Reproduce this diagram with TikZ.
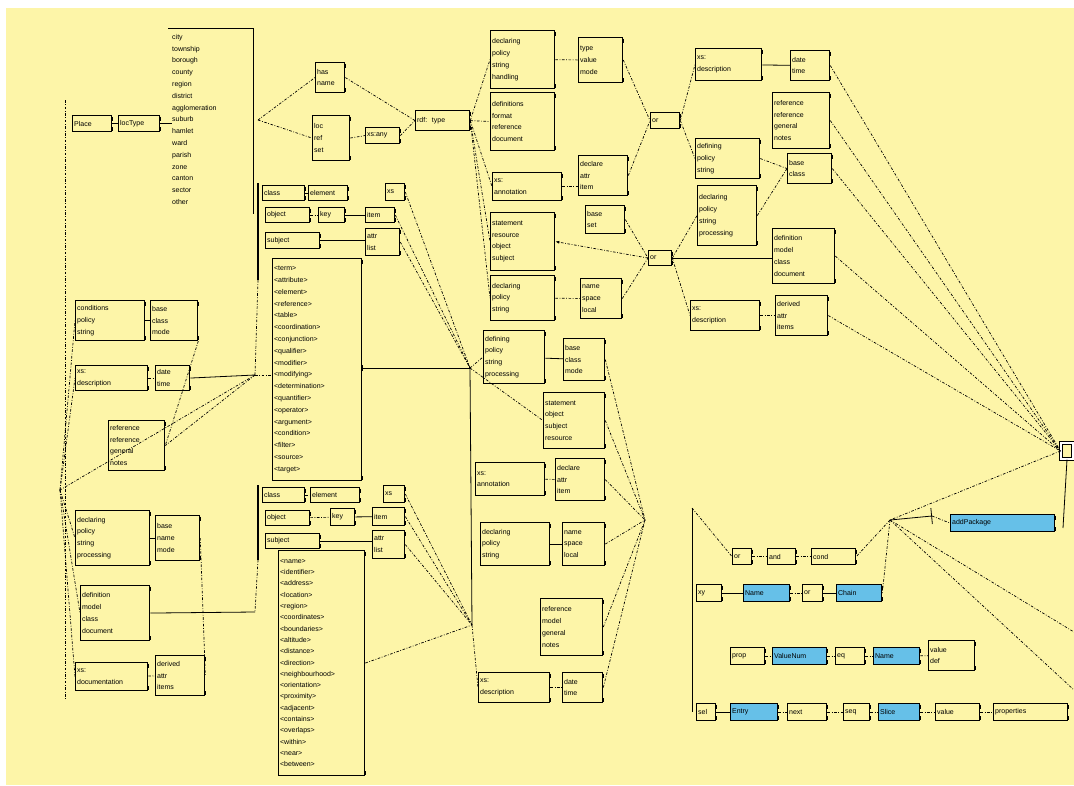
\documentclass[tikz,border=0pt]{standalone}
\usepackage{fontspec}
\setmainfont{Liberation Sans}
\usepackage{xcolor}
\usetikzlibrary{positioning,arrows.meta}
\definecolor{paper}{RGB}{253,245,168}
\definecolor{hilite}{RGB}{102,192,232}
\newcommand{\lsz}{\fontsize{7}{11.8}\selectfont}

\begin{document}
\begin{tikzpicture}[
    x=1pt, y=-1pt,
    every node/.style={font=\lsz},
    box/.style={draw, line width=1.1pt, anchor=north west, inner sep=1.6pt,
                align=left, tabs},
    bbox/.style={box, fill=hilite},
    wh/.code 2 args={\pgfmathsetmacro\boxtw{#1-4}%
      \edef\boxset{\noexpand\tikzset{text width=\boxtw pt, minimum height=#2pt}}\boxset},
    tabs/.style={append after command={\pgfextra{%
      \draw[line width=1.7pt] ([yshift=-1.5pt]\tikzlastnode.north east) -- ++(0,-4pt);
      \draw[line width=1.7pt] ([yshift=1.5pt]\tikzlastnode.south east) -- ++(0,4pt);}}},
    dd/.style={line width=0.7pt, dash pattern=on 2.6pt off 1.6pt on 0.8pt off 1.6pt},
    link/.style={line width=0.8pt},
    bracket/.style={line width=1.4pt},
]
  \useasboundingbox (0,0) rectangle (1074,785);
  \fill[white] (0,0) rectangle (1074,785);
  \fill[paper] (6,8) rectangle (1074,785);

  % Top left: place type list
  \node[box, wh={40}{16}] (a1) at (72,115) {Place};
  \node[box, wh={42}{16}] (a2) at (118,115) {locType};
  \node[anchor=north west, align=left, inner sep=0pt] (lst) at (172,34)
    {city\\township\\borough\\county\\region\\district\\agglomeration\\suburb\\hamlet\\ward\\parish\\zone\\canton\\sector\\other};
  \coordinate (tl) at (168,28);
  \coordinate (tr) at (253,28);
  \coordinate (tb) at (253,214);
  \draw[link] (a1) -- (a2);
  \draw[link] (a2) -- (lst.west |- a2);
  \draw[link] (tl) -- (tr) -- (tb);

  % Top middle
  \coordinate (jb) at (258,120);
  \node[box, wh={30}{30}] (b1) at (315,62) {has\\name};
  \node[box, wh={38}{45}] (b2) at (312,115) {loc\\ref\\set};
  \node[box, wh={35}{16}] (b3) at (365,127) {xs:any};
  \node[box, wh={55}{20}] (b4) at (415,110) {rdf:\ \ type};
  \draw[dd] (jb) -- (b1.west);
  \draw[dd] (jb) -- (b2.west);
  \draw[dd] (b2.east) -- (b3.west);
  \draw[dd] (b1.east) -- (b4.west);
  \draw[dd] (b3.east) -- (b4.west);

  % Column C and D
  \node[box, wh={65}{58}] (c1) at (490,30) {declaring\\policy\\string\\handling};
  \node[box, wh={65}{58}] (c2) at (490,92) {definitions\\format\\reference\\document};
  \node[box, wh={70}{28}] (c3) at (492,172) {xs:\\annotation};
  \node[box, wh={65}{58}] (c4) at (490,212) {statement\\resource\\object\\subject};
  \node[box, wh={65}{45}] (c5) at (490,275) {declaring\\policy\\string};
  \node[box, wh={45}{45}] (d1) at (578,37) {type\\value\\mode};
  \node[box, wh={50}{40}] (d2) at (578,155) {declare\\attr\\item};
  \node[box, wh={40}{28}] (d3) at (585,205) {base\\set};
  \node[box, wh={42}{40}] (d4) at (580,278) {name\\space\\local};
  \foreach \c in {c1,c2,c3,c4,c5}
    \draw[dd] (b4.east) -- (\c.west);
  \draw[dd] (c1) -- (d1);
  \draw[dd] (c3) -- (d2.west |- c3);
  \draw[dd] (c5) -- (d4);

  % Choices
  \node[box, wh={30}{16}] (e1) at (650,112) {or};
  \node[box, wh={24}{15}] (e2) at (648,250) {or};
  \draw[dd] (d1.east) -- (e1.west);
  \draw[dd] (d2.east) -- (e1.west);
  \draw[dd] (d3.east) -- (e2.west);
  \draw[dd] (d4.east) -- (e2.west);
  \draw[dd, -{Latex[length=4pt]}] (e2.west) -- (c4.east);

  % Column F
  \node[box, wh={67}{32}] (f1) at (695,48) {xs:\\description};
  \node[box, wh={40}{30}] (g1) at (790,50) {date\\time};
  \node[box, wh={58}{56}] (f2) at (772,92) {reference\\reference\\general\\notes};
  \node[box, wh={65}{40}] (f3) at (695,138) {defining\\policy\\string};
  \node[box, wh={60}{60}] (f4) at (697,185) {declaring\\policy\\string\\processing};
  \node[box, wh={45}{30}] (f5) at (787,153) {base\\class};
  \node[box, wh={63}{55}] (f6) at (772,228) {definition\\model\\class\\document};
  \node[box, wh={70}{30}] (f7) at (690,300) {xs:\\description};
  \node[box, wh={53}{40}] (f8) at (775,295) {derived\\attr\\items};
  \draw[dd] (e1.east) -- (f1.west);
  \draw[dd] (e1.east) -- (f3.west);
  \draw[link] (f1) -- (g1);
  \draw[dd] (f3.east) -- (f5.west);
  \draw[dd] (f4.east) -- (f5.west);
  \draw[dd] (e2.east) -- (f4.west);
  \draw[link] (e2.east) -- (f6.west |- e2.east);
  \draw[dd] (e2.east) -- (f7.west);
  \draw[dd] (f7) -- (f8);

  % Root on the right
  \node[draw, line width=1.1pt, minimum width=12pt, minimum height=16pt, inner sep=0pt,
        double, double distance=1.2pt] (h) at (1067,451) {};
  \foreach \s in {g1,f2,f5,f6,f8}
    \draw[dd] (\s.east) -- (h.west);

  % Left column
  \node[box, wh={70}{40}] (l1) at (75,300) {conditions\\policy\\string};
  \node[box, wh={48}{40}] (l2) at (150,300) {base\\class\\mode};
  \node[box, wh={73}{25}] (l3) at (75,365) {xs:\\description};
  \node[box, wh={35}{25}] (l4) at (155,365) {date\\time};
  \node[box, wh={57}{50}] (l5) at (108,420) {reference\\reference\\general\\notes};
  \node[box, wh={75}{55}] (l6) at (75,510) {declaring\\policy\\string\\processing};
  \node[box, wh={45}{45}] (l7) at (155,515) {base\\name\\mode};
  \node[box, wh={70}{55}] (l8) at (80,585) {definition\\model\\class\\document};
  \node[box, wh={73}{28}] (l9) at (75,662) {xs:\\documentation};
  \node[box, wh={50}{40}] (l10) at (155,655) {derived\\attr\\items};
  \coordinate (j3) at (255,375);
  \coordinate (j4) at (255,612);
  \coordinate (sp) at (60,490);
  \coordinate (sptop) at (65,100);
  \coordinate (spbot) at (65,700);
  \draw[dd] (sptop) -- (spbot);
  \draw[link] (l1) -- (l2);
  \draw[dd] (l3) -- (l4);
  \draw[link] (l4.east) -- (j3);
  \draw[dd] (l2.south east) -- (l5.east);
  \draw[dd] (j3) -- (l5.east);
  \draw[dd] (j3) -- (sp);
  \foreach \s in {l1,l3,l6,l8,l9}
    \draw[dd] (sp) -- (\s.west);
  \draw[link] (l6) -- (l7);
  \draw[dd] (l7.east) -- (l10.east);
  \draw[link] (l8.east) -- (j4);
  \draw[dd] (l9) -- (l10);

  % Middle column, upper half
  \node[box, wh={43}{15}] (m1) at (262,185) {class};
  \node[box, wh={40}{15}] (m2) at (308,185) {element};
  \node[box, wh={20}{17}] (m3) at (385,183) {xs};
  \node[box, wh={45}{15}] (m4) at (265,207) {object};
  \node[box, wh={27}{15}] (m5) at (318,207) {key};
  \node[box, wh={30}{15}] (m6) at (365,207) {item};
  \node[box, wh={55}{16}] (m7) at (265,232) {subject};
  \node[box, wh={35}{27}] (m8) at (365,228) {attr\\list};
  \node[box, wh={90}{222}] (m9) at (272,258)
    {<term>\\<attribute>\\<element>\\<reference>\\<table>\\<coordination>\\<conjunction>\\<qualifier>\\<modifier>\\<modifying>\\<determination>\\<quantifier>\\<operator>\\<argument>\\<condition>\\<filter>\\<source>\\<target>};
  \coordinate (j1) at (470,368);
  \draw[bracket] (258,183) -- (258,280);
  \draw[dd] (258,280) -- (j3);
  \draw[dd] (j3) -- (m9.west |- j3);
  \draw[dd] (m1) -- (m2);
  \draw[dd] (m4) -- (m5);
  \draw[link] (m5) -- (m6);
  \draw[link] (m7) -- (m8.west |- m7);
  \foreach \s in {m3,m6,m8}
    \draw[dd] (\s.east) -- (j1);
  \draw[link, -{Bar[width=6pt]}] (j1) -- (m9.east |- j1);

  % Middle column, lower half
  \node[box, wh={43}{15}] (m10) at (262,487) {class};
  \node[box, wh={50}{15}] (m11) at (310,487) {element};
  \node[box, wh={22}{17}] (m12) at (383,485) {xs};
  \node[box, wh={45}{15}] (m13) at (265,510) {object};
  \node[box, wh={25}{17}] (m14) at (330,508) {key};
  \node[box, wh={33}{18}] (m15) at (372,507) {item};
  \node[box, wh={55}{15}] (m16) at (265,533) {subject};
  \node[box, wh={33}{28}] (m17) at (372,530) {attr\\list};
  \node[box, wh={87}{225}, font=\fontsize{7}{11.3}\selectfont] (m18) at (278,550)
    {<name>\\<identifier>\\<address>\\<location>\\<region>\\<coordinates>\\<boundaries>\\<altitude>\\<distance>\\<direction>\\<neighbourhood>\\<orientation>\\<proximity>\\<adjacent>\\<contains>\\<overlaps>\\<within>\\<near>\\<between>};
  \coordinate (j5) at (472,625);
  \draw[bracket] (258,485) -- (258,560);
  \draw[dd] (258,560) -- (j4);
  \draw[dd] (m10) -- (m11);
  \draw[dd] (m13) -- (m14);
  \draw[link] (m14) -- (m15);
  \draw[link] (m16.east) -- (m17.west |- m16.east);
  \foreach \s in {m12,m15,m17}
    \draw[dd] (\s.east) -- (j5);
  \draw[dd] (m18.east) -- (j5);

  % Column N
  \node[box, wh={62}{53}] (n1) at (483,330) {defining\\policy\\string\\processing};
  \node[box, wh={42}{42}] (n2) at (563,338) {base\\class\\mode};
  \node[box, wh={62}{56}] (n3) at (543,392) {statement\\object\\subject\\resource};
  \node[box, wh={70}{33}] (n4) at (475,462) {xs:\\annotation};
  \node[box, wh={50}{42}] (n5) at (555,458) {declare\\attr\\item};
  \node[box, wh={70}{43}] (n6) at (480,522) {declaring\\policy\\string};
  \node[box, wh={43}{43}] (n7) at (562,522) {name\\space\\local};
  \node[box, wh={63}{57}] (n8) at (540,598) {reference\\model\\general\\notes};
  \node[box, wh={72}{30}] (n9) at (478,672) {xs:\\description};
  \node[box, wh={41}{30}] (n10) at (562,672) {date\\time};
  \coordinate (j2) at (645,520);
  \draw[dd] (j1) -- (n1.west);
  \draw[dd] (j1) -- (n3.west);
  \draw[link] (j1) -- (j5);
  \draw[dd] (j5) -- (n9.west);
  \draw[link] (n1) -- (n2);
  \draw[dd] (n4) -- (n5);
  \draw[link] (n6) -- (n7);
  \draw[dd] (n9) -- (n10);
  \foreach \s in {n2,n3,n5,n7,n8,n10}
    \draw[dd] (\s.east) -- (j2);

  % Lower right: expressions
  \node[bbox, wh={105}{17}] (ap) at (950,514) {addPackage};
  \node[box, wh={20}{16}] (r1) at (732,548) {or};
  \node[box, wh={29}{16}] (r2) at (767,548) {and};
  \node[box, wh={45}{16}] (r3) at (811,548) {cond};
  \node[box, wh={26}{17}] (r4) at (696,584) {xy};
  \node[bbox, wh={47}{17}] (r5) at (743,584) {Name};
  \node[box, wh={21}{17}] (r6) at (802,584) {or};
  \node[bbox, wh={46}{17}] (r7) at (836,584) {Chain};
  \node[box, wh={35}{17}] (r8) at (730,647) {prop};
  \node[bbox, wh={55}{17}] (r9) at (772,647) {ValueNum};
  \node[box, wh={30}{17}] (r10) at (835,647) {eq};
  \node[bbox, wh={47}{17}] (r11) at (873,647) {Name};
  \node[box, wh={47}{30}] (r12) at (928,640) {value\\def};
  \node[box, wh={20}{17}] (r13) at (696,703) {sel};
  \node[bbox, wh={48}{17}] (r14) at (730,703) {Entry};
  \node[box, wh={40}{17}] (r15) at (787,703) {next};
  \node[box, wh={27}{17}] (r16) at (843,703) {seq};
  \node[bbox, wh={42}{17}] (r17) at (878,703) {Slice};
  \node[box, wh={45}{17}] (r18) at (935,703) {value};
  \node[box, wh={75}{17}] (r19) at (993,703) {properties};
  \coordinate (p) at (890,520);
  \coordinate (pk) at (932,516);
  \coordinate (hb) at (1063,528);
  \coordinate (lv1) at (692,508);
  \coordinate (lv2) at (692,712);
  \coordinate (ex1) at (1074,632);
  \coordinate (ex2) at (1074,690);
  \draw[dd] (h.west) -- (p);
  \draw[link] (h.south) -- (hb);
  \draw[link, -{Bar[width=16pt]}] (p) -- (pk);
  \draw[dd] (pk) -- (ap.west);
  \draw[dd] (p) -- (ex1);
  \draw[dd] (p) -- (ex2);
  \draw[dd] (p) -- (r3.east);
  \draw[dd] (p) -- (r7.east);
  \draw[link] (lv1) -- (lv2);
  \draw[dd] (lv1) -- (r1.west);
  \draw[dd] (r1) -- (r2);
  \draw[dd] (r2) -- (r3);
  \draw[link] (r4) -- (r5);
  \draw[dd] (r5) -- (r6);
  \draw[link] (r6) -- (r7);
  \foreach \u/\v in {r8/r9,r9/r10,r10/r11,r11/r12,r14/r15,r15/r16,r16/r17,r17/r18,r18/r19}
    \draw[dd] (\u) -- (\v);
  \draw[link] (r13) -- (r14);
\end{tikzpicture}
\end{document}
